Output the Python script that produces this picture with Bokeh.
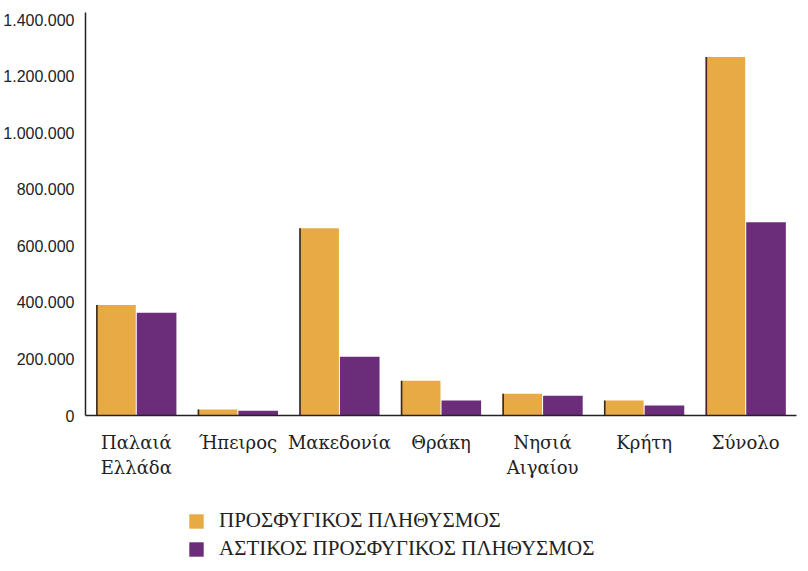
from bokeh.plotting import figure
from bokeh.layouts import column
from bokeh.models import FactorRange, Range1d, FixedTicker, Legend, LegendItem, ColumnDataSource
from bokeh.transform import dodge
from bokeh.embed import file_html
from bokeh.resources import INLINE

categories = ["Παλαιά\nΕλλάδα", "Ήπειρος", "Μακεδονία", "Θράκη", "Νησιά\nΑιγαίου", "Κρήτη", "Σύνολο"]
refugee_pop = [391000, 21000, 662000, 123000, 77000, 53000, 1268000]
urban_refugee_pop = [363000, 16500, 208000, 53000, 70000, 35000, 683000]
y_ticks = [0, 200000, 400000, 600000, 800000, 1000000, 1200000, 1400000]
y_tick_labels = ["0", "200.000", "400.000", "600.000", "800.000", "1.000.000", "1.200.000", "1.400.000"]
series_names = ["ΠΡΟΣΦΥΓΙΚΟΣ ΠΛΗΘΥΣΜΟΣ", "ΑΣΤΙΚΟΣ ΠΡΟΣΦΥΓΙΚΟΣ ΠΛΗΘΥΣΜΟΣ"]

ORANGE = "#E8AA45"
PURPLE = "#6B2C7A"
EDGE = "#3b2a1c"

src = ColumnDataSource(dict(cat=categories, refugee=refugee_pop, urban=urban_refugee_pop))

p = figure(x_range=FactorRange(*categories), y_range=Range1d(0, 1425000),
           width=800, height=480, output_backend="svg", toolbar_location=None,
           min_border_left=72, min_border_right=4, min_border_top=12, min_border_bottom=0)

p.vbar(x=dodge("cat", -0.2, range=p.x_range), top="refugee", width=0.39, source=src,
       fill_color=ORANGE, line_color=None)
p.vbar(x=dodge("cat", -0.388, range=p.x_range), top="refugee", width=0.016, source=src,
       fill_color=EDGE, line_color=None)
p.vbar(x=dodge("cat", 0.2, range=p.x_range), top="urban", width=0.39, source=src,
       fill_color=PURPLE, line_color=None)

p.xgrid.grid_line_color = None
p.ygrid.grid_line_color = None
p.outline_line_color = None

p.yaxis.ticker = FixedTicker(ticks=y_ticks)
p.yaxis.major_label_overrides = {t: l for t, l in zip(y_ticks, y_tick_labels)}
p.yaxis.major_tick_line_color = None
p.yaxis.minor_tick_line_color = None
p.yaxis.axis_line_color = "#222222"
p.yaxis.axis_line_width = 1.5
p.yaxis.major_label_text_font = "Liberation Sans"
p.yaxis.major_label_text_font_size = "16px"
p.yaxis.major_label_text_color = "#222222"

p.xaxis.major_tick_line_color = None
p.xaxis.axis_line_color = "#222222"
p.xaxis.axis_line_width = 1.5
p.xaxis.major_label_text_font = "DejaVu Serif"
p.xaxis.major_label_text_font_size = "18px"
p.xaxis.major_label_text_color = "#222222"
p.xaxis.major_label_standoff = 10

# legend strip below the chart: its renderers are hidden, only the legend is shown
p2 = figure(x_range=FactorRange(*categories), y_range=Range1d(0, 1425000), width=800, height=85,
            output_backend="svg", toolbar_location=None,
            min_border_left=0, min_border_right=0, min_border_top=0, min_border_bottom=0)
p2.axis.visible = False
p2.xgrid.grid_line_color = None
p2.ygrid.grid_line_color = None
p2.outline_line_color = None
l1 = p2.vbar(x="cat", top="refugee", width=0.39, source=src, fill_color=ORANGE, line_color=None)
l2 = p2.vbar(x="cat", top="urban", width=0.39, source=src, fill_color=PURPLE, line_color=None)
l1.visible = False
l2.visible = False

legend = Legend(items=[LegendItem(label=series_names[0], renderers=[l1]),
                       LegendItem(label=series_names[1], renderers=[l2])],
                location=(102, 4), orientation="vertical", click_policy="none",
                inactive_fill_alpha=0,
                border_line_color=None, background_fill_alpha=0,
                glyph_width=18, glyph_height=18, label_height=20,
                label_text_font="Liberation Serif", label_text_font_size="21px",
                label_text_color="#222222", spacing=3, padding=0, margin=0,
                label_standoff=14)
p2.add_layout(legend, "center")

open("out.html", "w").write(file_html(column(p, p2, spacing=0), INLINE))
